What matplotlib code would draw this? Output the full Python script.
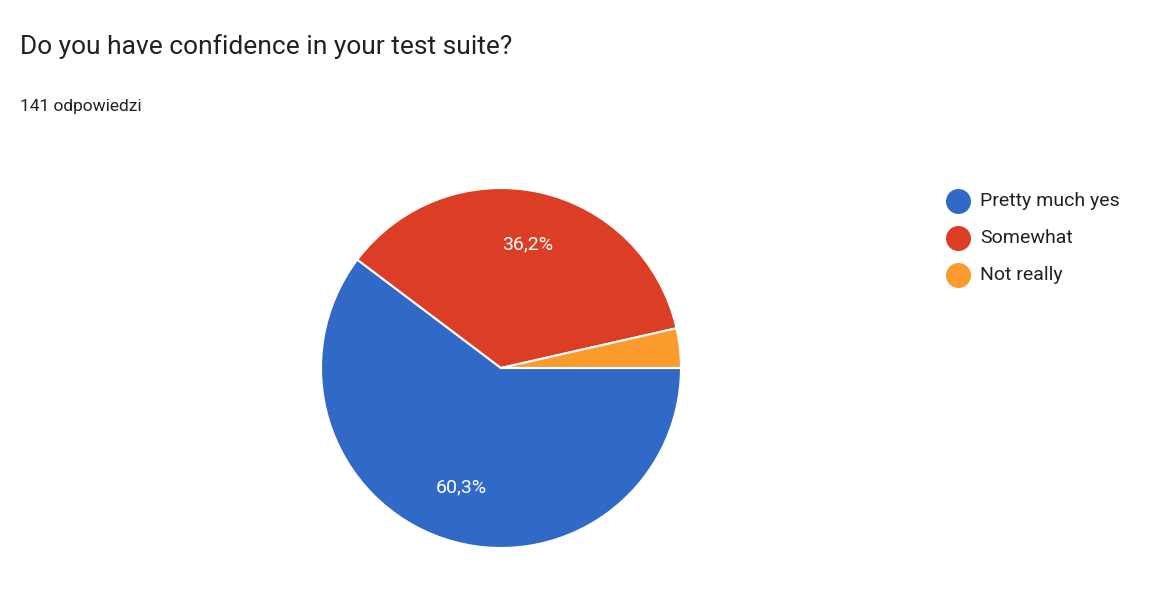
import matplotlib
matplotlib.use("Agg")
import matplotlib.pyplot as plt
from matplotlib.lines import Line2D

labels = ["Pretty much yes", "Somewhat", "Not really"]
values = [85, 51, 5]
pct_labels = ["60,3%", "36,2%", ""]
colors = ["#3169c6", "#db3e24", "#fb9a2d"]

plt.rcParams['font.family'] = ['Roboto', 'DejaVu Sans']
W, H = 1174, 604
fig = plt.figure(figsize=(W/100, H/100), dpi=100)
fig.text(20/W, 1-47/H, "Do you have confidence in your test suite?", fontsize=19, color="#202124", va="center")
fig.text(20/W, 1-106/H, "141 odpowiedzi", fontsize=12.5, color="#202124", va="center")

r = 180
cx, cy = 501, 368
ax = fig.add_axes([(cx-r)/W, 1-(cy+r)/H, 2*r/W, 2*r/H])
wedges, _ = ax.pie(values, colors=colors, startangle=0, counterclock=False,
                   wedgeprops=dict(edgecolor="white", linewidth=1.5))
import numpy as np
tot = sum(values)
start = 0
for v, t in zip(values, pct_labels):
    ang = start - v/tot*180
    start -= v/tot*360
    if t:
        a = np.deg2rad(ang)
        ax.text(0.7*np.cos(a), 0.7*np.sin(a), t, color="white", fontsize=14, ha="center", va="center")
ax.set_xlim(-1, 1); ax.set_ylim(-1, 1)
ax.set_aspect("equal")

for i, (l, c) in enumerate(zip(labels, colors)):
    y = 1-(201+37*i)/H
    fig.add_artist(Line2D([958/W], [y], marker="o", markersize=17, color=c, linestyle="none"))
    fig.text(980/W, y, l, fontsize=14, color="#202124", va="center")

fig.savefig("out.png", dpi=100, facecolor="white")
